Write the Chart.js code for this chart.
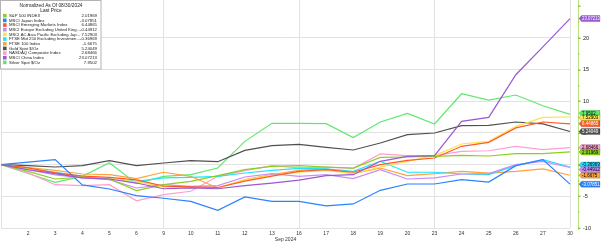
<!DOCTYPE html>
<html>
<head>
<meta charset="utf-8">
<script src="https://cdn.jsdelivr.net/npm/chart.js@4.4.1/dist/chart.umd.min.js"></script>
<style>
body { margin: 0; background: #fff; }
#wrap { width: 602px; height: 243px; }
</style>
</head>
<body>
<div id="wrap"><canvas id="chart" width="602" height="243"></canvas></div>
<script>
// trading days, Aug 30 is the base day (no label)
const days = ['', '2', '3', '4', '5', '6', '9', '10', '11', '12', '13', '16', '17', '18', '19', '20', '23', '24', '25', '26', '27', '30'];

const spx = [0, -1.05, -2.26, -1.95, -2.26, -4.1, -3.16, -2.63, -1.74, -0.79, -0.26, -0.16, -0.37, -0.53, 1.16, 1.21, 1.32, 1.47, 1.37, 1.74, 1.74, 2.01969];
const japan = [0, 0.4, 0.8, -3.2, -3.84, -4.9, -5.3, -5.8, -7.2, -5.1, -5.8, -5.8, -6.5, -6.2, -4.05, -3.05, -3.05, -2.37, -2.74, -0.16, 0.79, -3.07851];
const emerging = [0, -0.5, -1.3, -1.8, -2.0, -2.4, -3.4, -3.5, -3.6, -2.6, -1.8, -1.05, -0.79, -1.2, 0, 0.68, 1.05, 2.9, 3.53, 5.8, 6.74, 6.44865];
const europeXuk = [0, -0.8, -1.6, -2.1, -2.37, -3.68, -3.16, -3.42, -3.3, -1.95, -1.42, -1.85, -1.58, -2.2, -0.79, -2.26, -2.1, -1.47, -1.42, 0, 0.53, -0.44912];
const asiaPacXjp = [0, -0.6, -1.4, -2.0, -2.2, -2.7, -3.5, -3.6, -3.7, -2.4, -1.7, -1.2, -0.9, -1.42, -0.37, 0.53, 1.42, 3.26, 3.68, 6.05, 7.47, 7.52903];
const ftse250 = [0, -0.6, -1.2, -1.84, -2.26, -2.63, -2.1, -2.0, -1.84, -1.32, -0.9, -0.6, -0.68, -1.05, 0.53, -1.2, -1.2, -1.47, -1.58, -0.16, 0.79, -0.36969];
const ftse100 = [0, -0.45, -0.9, -1.47, -1.58, -2.2, -1.2, -1.84, -3.68, -2.37, -1.58, -0.9, -0.68, -1.42, -0.53, -1.74, -1.42, -1.05, -1.32, -1.05, -0.68, -1.6675];
const gold = [0, -0.15, -0.37, -0.15, 0.63, -0.15, 0.26, 0.63, 0.47, 2.26, 3.0, 3.2, 2.74, 2.32, 3.42, 4.74, 5.0, 6.16, 6.21, 6.74, 6.43, 5.24049];
const nasdaq = [0, -1.3, -3.16, -3.3, -3.16, -5.7, -4.74, -4.2, -1.84, -0.95, -0.16, -0.5, -0.4, -0.58, 1.7, 1.42, 1.42, 2.1, 2.2, 2.9, 2.37, 2.68466];
const china = [0, -0.8, -1.42, -2.1, -2.26, -2.9, -3.8, -3.68, -3.8, -3.3, -2.9, -2.45, -1.74, -1.58, 0.53, 1.3, 1.42, 6.84, 7.47, 14.2, 18.6, 23.07213];
const silver = [0, -1.4, -2.8, -1.84, 0.3, -3.0, -1.84, -1.58, -0.53, 3.68, 6.53, 6.53, 6.48, 4.27, 6.74, 8.1, 6.43, 11.2, 10.2, 11.0, 9.3, 7.9502];

const names = ['S&P 500 INDEX', 'MSCI Japan Index', 'MSCI Emerging Markets Index', 'MSCI Europe Excluding United King...',
  'MSCI AC Asia Pacific Excluding Jap...', 'FTSE Mid 250 Excluding Investmen...', 'FTSE 100 Index', 'Gold Spot $/Oz',
  'NASDAQ Composite Index', 'MSCI China Index', 'Silver Spot $/Oz'];
const lastPrice = ['2.01969', '-3.07851', '6.44865', '-0.44912', '7.52903', '-0.36969', '-1.6675', '5.24049', '2.68466', '23.07213', '7.9502'];
const series = [spx, japan, emerging, europeXuk, asiaPacXjp, ftse250, ftse100, gold, nasdaq, china, silver];
const colors = ['#8ccf22', '#2a82ff', '#ff5a28', '#c98cf6', '#ffe24a', '#1fe3ff', '#ffa23a', '#505050', '#ff9ecf', '#9a58d2', '#5ee96b'];
const tagText = ['#000', '#fff', '#fff', '#000', '#000', '#000', '#000', '#fff', '#000', '#fff', '#000'];

const FONT = '"Liberation Sans", Arial, sans-serif';
Chart.defaults.font.family = FONT;

const weekLines = [0, 6, 11, 16, 21];

const extras = {
  id: 'extras',
  afterDraw(chart) {
    const ctx = chart.ctx;
    const y = chart.scales.y;
    const area = chart.chartArea;
    ctx.save();

    // right axis line with ticks
    const ax = 578;
    ctx.strokeStyle = '#b9e27f';
    ctx.lineWidth = 1;
    ctx.beginPath();
    ctx.moveTo(ax + 0.5, 0);
    ctx.lineTo(ax + 0.5, area.bottom + 2);
    ctx.stroke();
    ctx.fillStyle = '#8cc63f';
    for (let v = -10; v <= 25; v += 2.5) {
      const py = Math.round(y.getPixelForValue(v));
      if (v % 5 === 0) ctx.fillRect(ax, py - 0.5, 2.5, 1.5);
      else ctx.fillRect(ax, py - 0.5, 1.5, 1);
    }

    // value tags on the right
    const pos = series.map((s, i) => ({ i, y: y.getPixelForValue(s[s.length - 1]) }));
    pos.sort((a, b) => a.y - b.y);
    for (let it = 0; it < 40; it++) {
      for (let k = 1; k < pos.length; k++) {
        const gap = pos[k].y - pos[k - 1].y;
        if (gap < 4.6) {
          const d = (4.6 - gap) / 2;
          pos[k - 1].y -= d;
          pos[k].y += d;
        }
      }
    }
    const byIdx = {};
    pos.forEach(p => { byIdx[p.i] = p.y; });
    ctx.font = '4.5px ' + FONT;
    ctx.textBaseline = 'middle';
    ctx.textAlign = 'left';
    for (let i = series.length - 1; i >= 0; i--) {
      const ty = byIdx[i];
      const x0 = 579, x1 = 600, h = 6;
      ctx.beginPath();
      ctx.moveTo(x0, ty);
      ctx.lineTo(x0 + 2.5, ty - h / 2);
      ctx.lineTo(x1, ty - h / 2);
      ctx.lineTo(x1, ty + h / 2);
      ctx.lineTo(x0 + 2.5, ty + h / 2);
      ctx.closePath();
      ctx.fillStyle = colors[i];
      ctx.fill();
      ctx.strokeStyle = 'rgba(0,0,0,0.35)';
      ctx.lineWidth = 0.5;
      ctx.stroke();
      ctx.fillStyle = tagText[i];
      ctx.fillText(lastPrice[i], x0 + 3, ty + 0.2, 18);
    }

    // legend box
    ctx.fillStyle = '#fff';
    ctx.fillRect(0, 0, 101, 69);
    ctx.strokeStyle = '#b3b3b3';
    ctx.lineWidth = 1;
    ctx.strokeRect(0.5, 0.5, 100.5, 68.5);
    ctx.fillStyle = '#222';
    ctx.font = '4.8px ' + FONT;
    ctx.textAlign = 'center';
    ctx.fillText('Normalized As Of 08/30/2024', 51, 5.5);
    ctx.fillText('Last Price', 51, 11);
    ctx.font = '4.3px ' + FONT;
    names.forEach((n, i) => {
      const ly = 15.7 + i * 4.67;
      ctx.fillStyle = colors[i];
      ctx.fillRect(3, ly - 1.8, 3.6, 3.6);
      ctx.fillStyle = '#222';
      ctx.textAlign = 'left';
      ctx.fillText(n, 9, ly, 71);
      ctx.textAlign = 'right';
      ctx.fillText(lastPrice[i], 97, ly);
    });
    ctx.restore();
  }
};

new Chart(document.getElementById('chart'), {
  type: 'line',
  data: {
    labels: days,
    datasets: series.map((s, i) => ({
      label: names[i],
      data: s,
      borderColor: colors[i],
      backgroundColor: colors[i],
      borderWidth: 1.2,
      pointRadius: 0,
      tension: 0,
      order: i === 9 ? -1 : i
    }))
  },
  options: {
    responsive: false,
    animation: false,
    devicePixelRatio: 1,
    layout: { padding: { left: 1, top: 0, right: 0, bottom: 0 } },
    plugins: { legend: { display: false }, tooltip: { enabled: false } },
    scales: {
      x: {
        grid: {
          drawTicks: false,
          color: (c) => weekLines.includes(c.index) ? '#e2e2e2' : 'rgba(0,0,0,0)'
        },
        border: { display: false },
        ticks: { autoSkip: false, maxRotation: 0, padding: 3, color: '#333', font: { size: 5 } },
        title: { display: true, text: 'Sep 2024', color: '#333', font: { size: 5 }, padding: { top: 0, bottom: 0 } },
        afterFit(scale) { scale.height = 15; scale.paddingLeft = 0; scale.paddingRight = 0; }
      },
      y: {
        position: 'right',
        min: -10,
        max: 26,
        grid: { drawTicks: false, color: '#e2e2e2' },
        border: { display: false },
        ticks: { stepSize: 5, padding: 13, color: '#222', font: { size: 5.5 } },
        afterBuildTicks(scale) { scale.ticks = scale.ticks.filter(t => t.value % 5 === 0); },
        afterFit(scale) { scale.width = 32; scale.paddingTop = 0; scale.paddingBottom = 0; }
      }
    }
  },
  plugins: [extras]
});
</script>
</body>
</html>
